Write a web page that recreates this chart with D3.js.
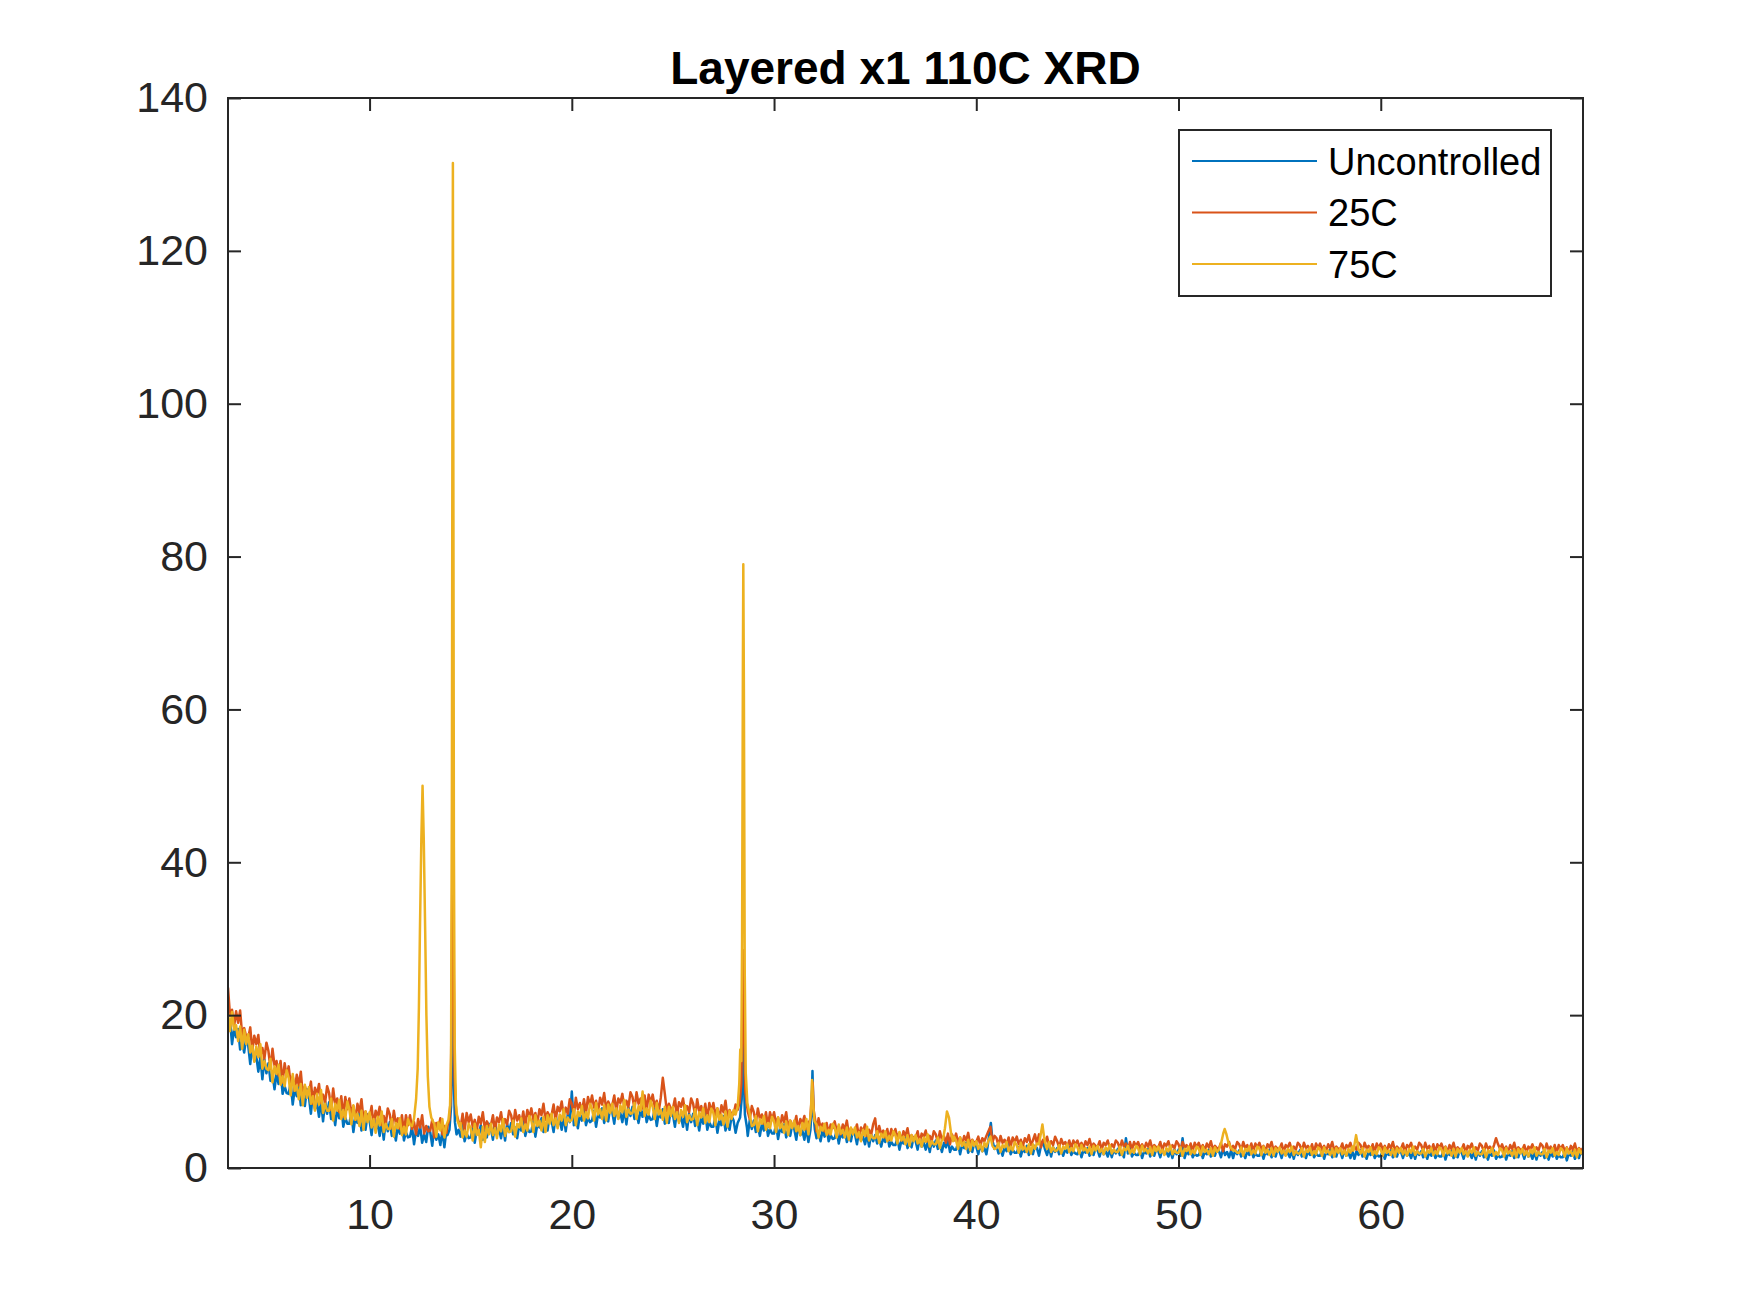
<!DOCTYPE html>
<html><head><meta charset="utf-8">
<script src="https://cdn.jsdelivr.net/npm/d3@7"></script>
<style>body{margin:0;background:#fff}</style>
</head><body>
<svg id="chart" width="1750" height="1313"></svg>
<script>
// ---------------- DATA ----------------
const chartTitle = "Layered x1 110C XRD";
const seriesNames = ["Uncontrolled", "25C", "75C"];
const xTicks = [10, 20, 30, 40, 50, 60];
const yTicks = [0, 20, 40, 60, 80, 100, 120, 140];
const twoThetaStart = 3, twoThetaStep = 0.1; // background sampling grid (2θ, degrees)

// Uncontrolled background, one row per degree (3.0 .. 69.9, then 70.0)
const uncontrolledBg = [
18.0,19.4,16.2,18.2,17.1,18.2,15.5,16.5,15.1,17.1,
16.0,13.6,16.2,14.0,14.6,12.6,14.5,11.6,14.2,12.4,
13.7,11.4,12.4,10.3,12.4,11.0,12.8,9.7,10.7,9.8,
9.7,11.2,8.3,10.4,9.4,10.8,8.2,9.3,8.1,10.3,
9.3,7.1,9.9,7.7,8.5,6.7,8.8,6.1,8.7,7.1,
8.6,6.4,7.5,5.6,7.8,6.5,8.4,5.4,6.6,5.8,
5.8,7.3,4.7,6.7,5.9,7.3,4.9,6.0,5.0,7.0,
6.2,4.3,6.8,5.0,5.8,4.2,6.2,3.7,6.2,4.8,
6.0,4.2,5.1,3.6,5.5,4.5,6.1,3.6,4.7,4.0,
4.1,5.4,3.1,4.9,4.2,5.5,3.3,4.4,3.4,5.4,
4.7,2.9,5.3,3.7,4.4,3.0,4.9,2.7,5.0,4.5,
6.0,18,8.0,4.6,5.0,4.1,5.6,3.5,4.5,3.9,
4.0,5.3,3.3,5.0,4.4,5.6,3.7,4.8,4.0,5.8,
5.2,3.7,5.9,4.4,5.1,3.9,5.6,3.6,5.8,4.7,
5.9,4.4,5.3,3.9,5.7,4.9,6.4,4.2,5.3,4.7,
4.8,6.2,4.1,5.8,5.3,6.5,4.7,5.7,4.9,6.8,
6.2,4.7,6.9,5.5,6.3,5.0,6.8,4.8,7.0,6.0,
10.0,5.6,6.6,5.2,7.0,6.2,7.7,5.6,6.6,6.0,
6.2,7.5,5.4,7.1,6.6,7.8,5.9,6.9,6.1,7.9,
7.3,5.8,8.0,6.5,7.2,6.0,7.7,5.7,7.9,6.8,
8.0,6.4,7.3,5.9,7.6,6.7,8.2,6.0,6.9,6.3,
6.4,7.7,5.5,7.2,6.6,7.7,5.8,6.7,5.9,7.7,
7.0,5.4,7.6,6.1,6.7,5.4,7.1,5.0,7.1,6.0,
7.1,5.5,6.4,4.9,6.7,5.8,7.3,5.0,6.0,5.4,
5.4,6.7,4.6,6.3,5.6,6.8,4.9,5.9,5.0,6.8,
6.2,4.6,5.9,6.5,9.0,15,9.0,4.2,6.3,5.1,
6.2,4.7,5.5,4.2,5.8,4.9,6.2,4.2,5.1,4.5,
4.5,5.7,3.8,5.3,4.7,5.7,4.0,4.9,4.2,5.7,
5.1,3.7,5.7,4.3,4.9,3.7,5.2,3.4,6.0,10,
5.2,3.9,4.6,3.5,4.9,4.1,5.3,3.5,4.3,3.8,
3.9,4.9,3.2,4.5,4.0,4.9,3.4,4.2,3.5,4.9,
4.4,3.1,4.8,3.6,4.1,3.1,4.4,2.8,4.4,3.5,
4.3,3.2,3.8,2.8,4.0,3.4,4.4,2.8,3.4,3.0,
3.0,3.9,2.4,3.6,3.2,4.0,2.6,3.3,2.7,4.0,
3.5,2.4,3.9,2.8,3.3,2.4,3.5,2.1,3.6,2.8,
3.6,2.5,3.1,2.1,3.3,2.7,3.7,2.1,2.8,2.4,
2.4,3.3,1.8,3.0,2.6,3.3,2.0,2.6,2.1,3.3,
2.8,1.8,3.1,2.2,2.6,1.8,4.5,5.0,3.5,2.5,
2.9,1.9,2.5,1.6,2.7,2.2,3.1,1.8,2.4,2.0,
2.0,2.7,1.5,2.5,2.1,2.9,1.7,2.3,1.8,2.9,
2.6,1.6,2.9,3.5,2.4,1.7,2.7,1.5,2.7,2.1,
2.6,1.8,2.3,1.6,2.5,2.0,2.8,1.7,2.2,1.9,
1.8,2.5,1.4,2.3,2.0,2.6,1.6,2.1,1.7,2.6,
2.3,1.5,2.6,1.8,2.2,1.5,2.4,1.4,2.4,1.9,
2.5,1.7,2.1,1.4,3.9,1.9,2.6,1.5,2.0,1.7,
1.7,2.4,1.3,2.2,1.9,2.5,1.5,2.0,1.6,2.5,
2.2,1.4,2.5,1.8,2.1,1.5,2.3,1.3,2.4,1.8,
2.4,1.6,3.9,1.3,2.2,1.8,2.5,1.4,1.9,1.6,
1.7,2.3,1.3,2.1,1.8,2.4,1.5,2.0,1.6,2.5,
2.2,1.4,2.5,1.7,2.1,1.4,2.3,1.3,2.3,1.8,
2.3,1.5,2.0,1.3,2.2,1.7,2.5,1.4,1.9,1.6,
1.6,2.3,1.2,2.1,1.8,2.4,1.4,1.9,1.5,2.4,
2.1,1.3,2.4,1.7,2.0,1.4,2.2,1.2,2.3,1.7,
2.3,1.5,2.0,1.3,2.2,1.7,2.5,1.4,1.9,1.6,
1.6,2.3,1.2,2.1,1.8,2.4,1.4,1.9,1.5,2.4,
2.1,1.3,2.4,1.6,2.0,1.3,2.2,1.2,2.2,1.7,
2.3,1.5,1.9,1.2,2.1,1.7,2.4,1.3,1.8,1.5,
1.6,2.2,1.2,2.0,1.7,2.3,1.4,1.9,1.5,2.4,
2.1,1.3,2.4,1.6,2.0,1.3,2.2,1.2,2.2,1.7,
2.2,1.4,1.9,1.2,2.1,1.6,2.4,1.3,1.8,1.5,
1.5,2.2,1.1,2.0,1.7,2.3,1.3,1.8,1.4,2.3,
2.0,1.2,2.3,1.6,1.9,1.3,2.1,1.1,2.2,1.6,
2.2,1.4,1.8,1.1,2.0,1.6,2.3,1.2,1.7,1.4,
1.5,2.1,1.1,1.9,1.6,2.2,1.3,1.8,1.4,2.3,
2.0,1.2,2.3,1.5,1.9,1.2,2.1,1.1,2.1,1.6,
2.1,1.3,1.8,1.1,2.0,1.5,2.3,1.2,1.7,1.4,
1.4,2.1,1.0,1.9,1.6,2.2,1.2,1.7,1.3,2.2,
1.7];

// 25C background
const c25Bg = [
23.6,19.9,20.7,18.5,20.5,19.0,20.6,17.4,18.3,17.2,
17.0,18.4,15.3,17.3,16.2,17.4,14.7,15.7,14.3,16.4,
15.3,13.0,15.6,13.4,14.0,12.1,14.0,11.2,13.7,12.0,
13.3,11.0,12.0,10.1,12.2,10.8,12.6,9.5,10.7,9.8,
9.7,11.3,8.4,10.5,9.6,11.0,8.5,9.6,8.5,10.7,
9.8,7.6,10.4,8.3,9.1,7.3,9.4,6.7,9.3,7.7,
9.1,7.1,8.1,6.3,8.4,7.3,9.0,6.3,7.4,6.6,
6.6,8.1,5.5,7.5,6.7,8.0,5.6,6.8,5.7,7.8,
7.0,5.2,7.5,5.8,6.5,5.1,6.9,4.6,6.9,5.6,
6.9,5.1,6.0,4.4,6.4,5.3,6.9,4.5,5.5,4.8,
4.9,6.3,4.0,5.9,5.2,6.5,4.4,5.5,4.6,6.6,
6.0,12,6.0,7.0,6.0,5.2,7.1,4.9,7.2,6.0,
7.0,5.4,6.3,4.9,6.7,5.8,7.3,5.1,6.1,5.5,
5.6,6.9,4.9,6.6,6.0,7.3,5.4,6.4,5.7,7.5,
6.9,5.4,7.6,6.2,6.9,5.7,7.4,5.5,7.6,6.6,
7.8,6.3,7.2,5.9,7.7,6.9,8.4,6.3,7.3,6.8,
6.9,8.3,6.2,8.0,7.4,8.7,6.8,7.9,7.1,9.0,
8.4,6.9,9.2,7.7,8.5,7.3,9.0,7.1,9.3,8.2,
9.5,7.9,8.8,7.4,9.2,8.3,9.8,7.7,8.7,8.1,
8.2,9.5,7.4,9.1,8.5,9.7,7.8,8.8,8.0,9.9,
9.3,7.7,9.9,8.4,9.1,7.8,9.5,7.5,9.6,8.5,
9.6,8.0,8.8,7.4,9.2,11.8,9.7,7.4,8.4,7.8,
7.8,9.1,6.9,8.6,8.0,9.1,7.2,8.1,7.3,9.1,
8.4,6.8,9.0,7.4,8.1,6.8,8.4,6.4,8.5,7.4,
8.5,6.9,7.8,6.4,8.2,7.3,8.8,6.6,7.6,7.0,
7.0,8.3,8.0,9.0,20,20,9.0,8.0,6.4,8.1,
7.3,5.9,7.8,6.4,7.0,5.8,7.3,5.4,7.3,6.3,
7.3,5.8,6.6,5.3,6.9,6.0,7.3,5.3,6.2,5.6,
5.6,6.8,4.9,6.4,5.8,6.8,5.1,6.0,8.0,10,
6.1,4.8,6.5,5.3,5.8,4.8,5.9,4.5,5.7,5.2,
6.1,4.8,5.5,4.4,5.7,5.0,6.2,4.4,5.2,4.7,
4.7,5.7,4.0,5.3,4.8,5.7,4.2,5.0,4.3,5.7,
6.5,4.0,5.5,4.4,4.9,4.0,5.1,3.7,5.1,4.3,
5.1,4.0,4.6,3.6,4.8,4.2,5.2,3.6,4.3,3.9,
3.9,4.8,3.3,4.5,4.1,4.9,3.5,4.2,3.6,4.8,
4.4,3.3,4.8,3.7,4.2,3.3,4.5,3.1,4.4,3.6,
4.5,3.4,4.0,3.0,4.2,3.6,4.6,3.0,3.7,3.3,
3.4,4.1,2.9,3.9,3.5,4.2,4.8,5.4,3.4,4.2,
3.9,2.9,4.2,3.3,3.7,3.0,4.0,2.8,4.0,3.4,
4.1,3.1,3.7,2.8,3.9,3.4,4.3,3.0,3.6,4.4,
3.2,4.4,2.7,3.7,3.3,4.1,2.9,3.5,3.0,4.1,
3.5,2.7,3.8,3.1,3.4,2.8,3.6,2.6,3.6,3.1,
3.6,2.8,3.3,2.6,3.5,3.0,3.8,2.7,3.2,2.9,
2.8,3.5,2.4,3.3,3.0,3.6,2.6,3.1,2.7,3.6,
3.3,2.5,3.6,2.8,3.2,2.5,3.4,2.4,3.4,2.9,
3.4,2.6,3.1,2.4,3.3,2.8,3.6,2.5,3.0,2.7,
2.7,3.4,2.3,3.2,2.9,3.5,2.5,3.0,2.6,3.5,
3.1,2.3,3.4,2.7,3.0,2.4,3.2,2.2,3.3,2.7,
3.3,2.5,3.0,2.3,3.2,2.7,3.5,2.4,2.9,2.6,
2.6,3.3,2.2,3.1,2.8,3.4,2.4,2.9,2.5,3.4,
3.1,2.3,3.4,2.6,3.0,2.3,3.2,2.2,3.2,2.7,
3.3,2.5,2.9,2.2,3.1,2.7,3.4,2.3,2.8,2.5,
2.5,3.2,2.1,3.0,2.7,3.3,2.3,2.8,2.4,3.3,
3.0,2.2,3.3,2.6,2.9,2.3,3.1,2.1,3.2,2.6,
3.2,2.4,2.9,2.2,3.1,2.6,3.4,2.3,2.8,2.5,
2.5,3.2,2.1,3.0,2.7,3.3,2.3,2.8,2.4,3.3,
3.0,2.2,3.3,2.6,2.9,2.3,3.1,2.1,3.2,2.6,
3.2,2.4,2.9,2.2,3.1,2.6,3.4,2.3,2.8,2.5,
2.5,3.2,2.1,3.0,2.7,3.3,2.3,2.8,2.4,3.3,
3.0,2.2,3.3,2.5,2.9,2.2,3.1,2.1,3.1,2.6,
3.2,2.4,2.8,2.1,3.0,2.5,3.3,2.2,2.7,2.4,
2.4,3.1,2.0,2.9,2.6,3.2,2.2,2.7,2.3,3.2,
2.9,2.1,3.2,2.5,2.8,2.2,3.0,3.9,3.1,2.5,
3.1,2.3,2.8,2.1,3.0,2.5,3.3,2.2,2.7,2.4,
2.4,3.0,2.0,2.8,2.5,3.1,2.2,2.7,2.3,3.2,
2.9,2.1,3.2,2.4,2.8,2.1,3.0,2.0,3.0,2.5,
3.0,2.2,2.7,2.0,2.9,2.4,3.2,2.1,2.6,2.3,
2.6];

// 75C background
const c75Bg = [
20.3,17.9,20.4,18.1,18.7,16.6,18.5,15.6,18.1,16.2,
17.5,15.1,16.0,13.9,15.9,14.5,16.2,13.0,14.0,13.0,
12.8,14.3,11.2,13.3,12.3,13.5,10.9,12.0,10.7,12.8,
11.8,9.5,12.3,10.1,10.8,9.0,11.0,8.2,10.9,9.2,
10.6,8.4,9.4,7.5,9.7,8.3,10.2,7.2,8.4,7.5,
7.5,9.1,6.2,8.4,7.5,8.9,6.4,7.6,6.4,8.7,
7.7,5.7,8.2,6.3,7.1,5.5,7.5,5.0,7.4,6.0,
7.3,5.3,6.4,4.6,6.7,5.6,7.4,4.7,5.8,5.1,
5.1,6.4,4.1,5.9,5.2,6.5,4.3,5.4,4.4,6.4,
5.7,3.9,5.2,6.0,9.0,30,44,20,8.0,6.5,
6.8,6.0,5.8,4.1,6.0,4.9,6.4,4.0,5.6,6.3,
8.0,100,15,6.0,5.5,5.9,4.0,4.9,4.1,5.8,
5.2,3.6,5.8,4.3,5.0,2.7,5.4,3.4,5.5,4.4,
5.8,4.3,5.2,3.9,5.7,4.8,6.4,4.2,5.2,4.7,
4.8,6.2,4.1,5.8,5.3,6.5,4.7,5.7,4.9,6.8,
6.2,4.7,6.9,5.5,6.2,4.9,6.7,4.7,6.9,5.8,
7.1,5.6,6.5,5.2,7.0,6.2,7.7,5.6,6.6,6.1,
6.3,7.7,5.6,7.4,6.8,8.1,6.2,7.3,6.5,8.4,
7.8,6.2,8.5,7.0,7.7,6.4,8.2,6.2,8.3,7.2,
8.4,6.8,7.8,6.4,8.2,7.3,8.9,6.7,7.7,7.1,
7.2,8.5,6.4,8.1,7.5,10.0,6.8,7.8,7.0,8.8,
8.0,6.4,8.5,7.0,7.6,6.3,8.0,5.9,8.0,6.8,
8.0,6.4,7.3,5.9,7.6,6.7,8.2,6.0,6.9,6.3,
6.4,7.7,5.6,7.3,6.6,7.8,5.9,6.9,6.0,7.8,
7.2,5.6,7.8,6.3,7.0,5.7,7.4,5.4,7.5,6.4,
7.6,7.0,8.0,15,30,70,26,9.0,7.0,5.5,
5.6,6.8,4.8,6.4,5.8,6.8,5.0,5.9,5.2,6.7,
6.1,4.7,6.6,5.2,5.8,4.6,6.1,4.3,6.2,5.2,
6.2,4.8,5.5,4.3,5.9,5.0,6.4,4.4,7.0,11,
6.0,5.7,4.0,5.4,4.9,5.8,4.3,5.0,4.4,5.8,
5.3,4.0,5.7,4.5,5.0,4.0,5.3,3.7,5.3,4.4,
5.3,4.0,4.7,3.5,5.0,4.2,5.4,3.6,4.3,3.9,
3.9,4.8,3.3,4.5,4.0,4.8,3.5,4.2,3.6,4.8,
4.3,3.2,4.7,3.6,4.1,3.1,4.3,2.9,4.3,3.5,
4.3,3.2,3.8,2.8,4.0,3.4,4.4,2.8,3.5,3.1,
3.1,4.0,2.6,3.7,5.0,7.0,6.0,4.5,3.5,4.1,
3.6,2.5,4.0,2.9,3.4,2.5,3.7,2.3,3.6,2.9,
3.5,2.5,3.1,2.2,3.3,2.8,3.6,4.1,2.9,2.5,
2.6,3.3,2.1,3.0,2.7,3.4,2.2,2.8,2.3,3.4,
3.0,2.0,3.3,2.4,2.8,2.1,3.1,1.9,3.1,2.5,
3.2,3.1,4.6,5.0,3.5,2.5,3.4,2.1,2.7,2.2,
2.3,3.0,1.9,2.8,2.5,3.1,2.1,2.6,2.2,3.1,
2.7,1.9,3.0,2.3,2.6,2.0,2.8,1.8,2.9,2.3,
2.9,2.1,2.5,1.8,2.7,2.3,3.0,1.9,2.4,2.1,
2.1,2.8,1.7,2.6,2.3,2.9,1.9,2.4,2.0,2.9,
2.6,1.8,2.9,2.2,2.5,1.9,2.7,1.7,2.8,2.2,
2.8,2.0,2.4,1.7,2.6,2.2,2.9,1.8,2.3,2.0,
2.0,2.7,1.6,2.5,2.2,2.8,1.8,2.3,1.9,2.8,
2.5,1.7,2.8,2.1,2.4,1.8,2.6,1.6,2.7,2.1,
2.4,3.4,4.6,5.0,4.5,3.4,2.7,2.3,2.3,2.0,
2.0,2.7,1.6,2.5,2.2,2.8,1.8,2.3,1.9,2.8,
2.5,1.7,2.8,2.0,2.4,1.7,2.6,1.6,2.6,2.1,
2.7,1.9,2.3,1.6,2.5,2.1,2.8,1.7,2.2,1.9,
1.9,2.6,1.5,2.4,2.1,2.7,1.7,2.2,1.8,2.7,
2.4,1.6,2.7,2.0,2.3,1.7,2.5,1.5,2.6,2.0,
2.6,1.8,2.3,1.6,2.5,2.0,2.8,2.3,4.3,2.5,
1.9,2.6,1.5,2.4,2.1,2.7,1.7,2.2,1.8,2.7,
2.4,1.6,2.7,2.0,2.3,1.7,2.5,1.5,2.6,2.0,
2.6,1.8,2.3,1.6,2.5,2.0,2.8,1.7,2.2,1.9,
1.9,2.5,1.5,2.3,2.0,2.6,1.7,2.2,1.8,2.7,
2.4,1.6,2.7,1.9,2.3,1.6,2.5,1.5,2.5,2.0,
2.6,1.8,2.2,1.5,2.4,2.0,2.7,1.6,2.1,1.8,
1.8,2.5,1.4,2.3,2.0,2.6,1.6,2.1,1.7,2.6,
2.3,1.5,2.6,1.9,2.2,1.6,2.4,1.4,2.5,1.9,
2.5,1.7,2.2,1.5,2.4,1.9,2.7,1.6,2.1,1.8,
1.8,2.5,1.4,2.3,2.0,2.6,1.6,2.1,1.7,2.6,
2.3,1.5,2.6,1.9,2.2,1.6,2.4,1.4,2.5,1.9,
2.3];

// Diffraction peaks, finely sampled [2θ, intensity]
const uncontrolledPeaks = [
  [[13.85,4.3],[13.95,5.0],[14.03,8],[14.08,16],[14.12,22],[14.16,12],[14.22,6],[14.3,4.4]],
  [[28.2,5.9],[28.32,6.6],[28.4,9],[28.46,17],[28.5,12],[28.56,7],[28.66,5.3]],
  [[31.8,5.0],[31.86,8],[31.9,12.7],[31.95,7],[32.02,5]],
  [[40.55,2.6],[40.65,4.6],[40.72,5.9],[40.8,3.6],[40.9,2.5]]
];
const c25Peaks = [
  [[13.85,5.5],[13.95,6.4],[14.02,9.5],[14.07,28],[14.11,47],[14.15,30],[14.2,12],[14.28,7.2],[14.4,6.1]],
  [[28.2,7.6],[28.3,8.6],[28.38,11],[28.44,22],[28.48,28.5],[28.52,18],[28.58,10],[28.7,7.4]],
  [[31.78,6.2],[31.86,9],[31.91,11.2],[31.96,7.6],[32.05,6.0]]
];
const c75Peaks = [
  [[12.1,5.5],[12.2,6.5],[12.3,9],[12.38,13],[12.44,21],[12.49,31],[12.56,43],[12.62,50],[12.68,43],[12.75,31],[12.81,20],[12.88,12],[12.96,8],[13.05,6.6],[13.15,6.0]],
  [[13.8,5.6],[13.9,6.3],[13.98,8.2],[14.03,15],[14.07,48],[14.1,105],[14.12,131.5],[14.14,98],[14.17,42],[14.21,16],[14.27,8.4],[14.35,6.2],[14.45,5.4]],
  [[28.1,7.0],[28.2,8.0],[28.28,11],[28.33,15.5],[28.38,14],[28.42,30],[28.46,66],[28.48,79],[28.51,62],[28.55,26],[28.6,12.5],[28.68,8.5],[28.8,7.0]],
  [[31.75,5.6],[31.82,7.2],[31.88,11.5],[31.94,8.2],[32.0,6.1]],
  [[38.35,3.7],[38.45,5.2],[38.55,7.4],[38.65,6.6],[38.75,4.6],[38.85,3.5]],
  [[43.1,3.1],[43.2,4.6],[43.27,5.7],[43.35,4.1],[43.45,2.8]],
  [[52.0,2.4],[52.12,3.4],[52.22,4.6],[52.28,5.1],[52.36,4.5],[52.46,3.4],[52.58,2.7],[52.7,2.3]],
  [[58.65,2.3],[58.78,4.3],[58.9,2.5]]
];

// ---------------- BUILD ----------------
function buildSeries(bg, peaks) {
  const pts = bg.map((v, i) => [+(twoThetaStart + i * twoThetaStep).toFixed(2), v]);
  const kept = pts.filter(p => !peaks.some(w => p[0] >= w[0][0] - 1e-9 && p[0] <= w[w.length - 1][0] + 1e-9));
  return kept.concat(...peaks).sort((a, b) => a[0] - b[0]);
}
const series = [
  { name: seriesNames[0], color: "#0072BD", data: buildSeries(uncontrolledBg, uncontrolledPeaks) },
  { name: seriesNames[1], color: "#D95319", data: buildSeries(c25Bg, c25Peaks) },
  { name: seriesNames[2], color: "#EDB120", data: buildSeries(c75Bg, c75Peaks) }
];

// ---------------- DRAW ----------------
const FONT = "'Liberation Sans', Arial, Helvetica, sans-serif";
const AX = "#262626";
const m = { left: 228, right: 1583, top: 98, bottom: 1168 };
const svg = d3.select("#chart");
svg.append("rect").attr("width", 1750).attr("height", 1313).attr("fill", "#fff");

const x = d3.scaleLinear().domain([3, 70]).range([m.left, m.right]);
const y = d3.scaleLinear().domain([0, 140]).range([m.bottom, m.top]);

svg.append("clipPath").attr("id", "clip").append("rect")
  .attr("x", m.left).attr("y", m.top).attr("width", m.right - m.left).attr("height", m.bottom - m.top);

const line = d3.line().x(d => x(d[0])).y(d => y(d[1]));
const plot = svg.append("g").attr("clip-path", "url(#clip)");
series.forEach(s => {
  plot.append("path").datum(s.data).attr("d", line)
    .attr("fill", "none").attr("stroke", s.color).attr("stroke-width", 2.5).attr("stroke-linejoin", "round");
});

function styleAxis(g) {
  g.select(".domain").remove();
  g.selectAll(".tick line").attr("stroke", AX).attr("stroke-width", 2);
  g.selectAll(".tick text").attr("fill", AX).style("font-family", FONT).style("font-size", "43px");
}
svg.append("g").attr("transform", `translate(0,${m.bottom})`)
  .call(d3.axisBottom(x).tickValues(xTicks).tickSize(-13).tickPadding(30)).call(styleAxis);
svg.append("g").attr("transform", `translate(0,${m.top})`)
  .call(d3.axisTop(x).tickValues(xTicks).tickSize(-13).tickFormat("")).call(styleAxis);
svg.append("g").attr("transform", `translate(${m.left},0)`)
  .call(d3.axisLeft(y).tickValues(yTicks).tickSize(-13).tickPadding(20)).call(styleAxis);
svg.append("g").attr("transform", `translate(${m.right},0)`)
  .call(d3.axisRight(y).tickValues(yTicks).tickSize(-13).tickFormat("")).call(styleAxis);

svg.append("rect").attr("x", m.left).attr("y", m.top)
  .attr("width", m.right - m.left).attr("height", m.bottom - m.top)
  .attr("fill", "none").attr("stroke", AX).attr("stroke-width", 2);

svg.append("text").attr("x", (m.left + m.right) / 2).attr("y", 84)
  .attr("text-anchor", "middle").style("font-family", FONT).style("font-size", "46px")
  .style("font-weight", "bold").attr("fill", "#000").text(chartTitle);

// legend
const lg = svg.append("g");
lg.append("rect").attr("x", 1179).attr("y", 130).attr("width", 372).attr("height", 166)
  .attr("fill", "#fff").attr("stroke", AX).attr("stroke-width", 2);
series.forEach((s, i) => {
  const yy = 161 + i * 51.5;
  lg.append("line").attr("x1", 1192).attr("x2", 1317).attr("y1", yy).attr("y2", yy)
    .attr("stroke", s.color).attr("stroke-width", 2);
  lg.append("text").attr("x", 1328).attr("y", yy).attr("dy", "0.36em")
    .style("font-family", FONT).style("font-size", "38px").attr("fill", "#000").text(s.name);
});
</script>
</body></html>
